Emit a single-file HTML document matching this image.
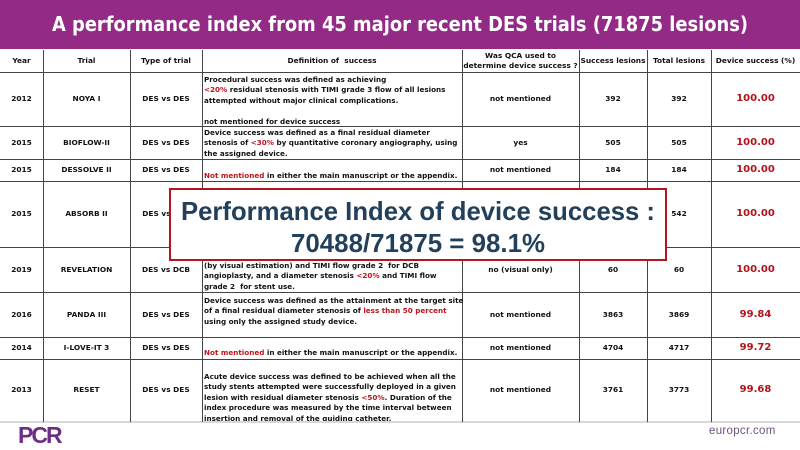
<!DOCTYPE html>
<html><head><meta charset="utf-8">
<style>
*{margin:0;padding:0;box-sizing:border-box}
body{width:800px;height:450px;overflow:hidden;background:#fff;font-family:"Liberation Sans",Arial,sans-serif;position:relative}
.abs{position:absolute}
.hl{position:absolute;left:0;width:800px;height:1px;background:#444}
.vl{position:absolute;width:1px;background:#444}
.c{position:absolute;display:flex;align-items:center;justify-content:center;text-align:center;font-weight:bold;font-size:7.4px;color:#111;line-height:10px;font-family:"DejaVu Sans",Verdana,sans-serif}
.d{position:absolute;font-weight:bold;font-size:7.2px;color:#111;line-height:10.4px;left:204px;width:258px;font-family:"DejaVu Sans",Verdana,sans-serif;white-space:nowrap}
.r{color:#c0141c}
.pct{color:#b3121a;font-size:10px}
</style></head><body>
<div class="abs" style="left:0;top:0;width:800px;height:49px;background:#922a86"></div>
<svg class="abs" style="left:0;top:0" width="800" height="49"><text x="400" y="31" text-anchor="middle" textLength="696" lengthAdjust="spacingAndGlyphs" font-family="DejaVu Sans,Verdana,sans-serif" font-weight="bold" font-size="20" fill="#fff">A performance index from 45 major recent DES trials (71875 lesions)</text></svg>

<div>
<div class="hl" style="top:72px"></div>
<div class="hl" style="top:126px"></div>
<div class="hl" style="top:159px"></div>
<div class="hl" style="top:181px"></div>
<div class="hl" style="top:247px"></div>
<div class="hl" style="top:292px"></div>
<div class="hl" style="top:337px"></div>
<div class="hl" style="top:359px"></div>
<div class="abs" style="left:0;top:421px;width:800px;height:2px;background:#d8d8d8"></div>
<div class="vl" style="left:43px;top:50px;height:372px"></div>
<div class="vl" style="left:130px;top:50px;height:372px"></div>
<div class="vl" style="left:202px;top:50px;height:372px"></div>
<div class="vl" style="left:462px;top:50px;height:372px"></div>
<div class="vl" style="left:579px;top:50px;height:372px"></div>
<div class="vl" style="left:647px;top:50px;height:372px"></div>
<div class="vl" style="left:711px;top:50px;height:372px"></div>

<div class="c" style="left:0;top:50px;width:43px;height:22px">Year</div>
<div class="c" style="left:43px;top:50px;width:87px;height:22px">Trial</div>
<div class="c" style="left:130px;top:50px;width:72px;height:22px">Type of trial</div>
<div class="c" style="left:202px;top:50px;width:260px;height:22px">Definition of&nbsp; success</div>
<div class="c" style="left:462px;top:50px;width:117px;height:22px">Was QCA used to<br>determine device success ?</div>
<div class="c" style="left:579px;top:50px;width:68px;height:22px">Success lesions</div>
<div class="c" style="left:647px;top:50px;width:64px;height:22px">Total lesions</div>
<div class="c" style="left:711px;top:50px;width:89px;height:22px">Device success (%)</div>

<div class="c" style="left:0;top:72px;width:43px;height:54px">2012</div>
<div class="c" style="left:43px;top:72px;width:87px;height:54px">NOYA I</div>
<div class="c" style="left:130px;top:72px;width:72px;height:54px">DES vs DES</div>
<div class="d" style="top:75px">Procedural success was defined as achieving<br><span class="r">&lt;20%</span> residual stenosis with TIMI grade 3 flow of all lesions<br>attempted without major clinical complications.<br><br>not mentioned for device success</div>
<div class="c" style="left:462px;top:72px;width:117px;height:54px">not mentioned</div>
<div class="c" style="left:579px;top:72px;width:68px;height:54px">392</div>
<div class="c" style="left:647px;top:72px;width:64px;height:54px">392</div>
<div class="c pct" style="left:711px;top:72px;width:89px;height:54px">100.00</div>

<div class="c" style="left:0;top:126px;width:43px;height:33px">2015</div>
<div class="c" style="left:43px;top:126px;width:87px;height:33px">BIOFLOW-II</div>
<div class="c" style="left:130px;top:126px;width:72px;height:33px">DES vs DES</div>
<div class="d" style="top:128px">Device success was defined as a final residual diameter<br>stenosis of <span class="r">&lt;30%</span> by quantitative coronary angiography, using<br>the assigned device.</div>
<div class="c" style="left:462px;top:126px;width:117px;height:33px">yes</div>
<div class="c" style="left:579px;top:126px;width:68px;height:33px">505</div>
<div class="c" style="left:647px;top:126px;width:64px;height:33px">505</div>
<div class="c pct" style="left:711px;top:126px;width:89px;height:33px">100.00</div>

<div class="c" style="left:0;top:159px;width:43px;height:22px">2015</div>
<div class="c" style="left:43px;top:159px;width:87px;height:22px">DESSOLVE II</div>
<div class="c" style="left:130px;top:159px;width:72px;height:22px">DES vs DES</div>
<div class="d" style="top:171px"><span class="r">Not mentioned</span> in either the main manuscript or the appendix.</div>
<div class="c" style="left:462px;top:159px;width:117px;height:22px">not mentioned</div>
<div class="c" style="left:579px;top:159px;width:68px;height:22px">184</div>
<div class="c" style="left:647px;top:159px;width:64px;height:22px">184</div>
<div class="c pct" style="left:711px;top:159px;width:89px;height:22px">100.00</div>

<div class="c" style="left:0;top:181px;width:43px;height:66px">2015</div>
<div class="c" style="left:43px;top:181px;width:87px;height:66px">ABSORB II</div>
<div class="c" style="left:130px;top:181px;width:72px;height:66px">DES vs DES</div>
<div class="c" style="left:647px;top:181px;width:64px;height:66px">542</div>
<div class="c pct" style="left:711px;top:181px;width:89px;height:66px">100.00</div>

<div class="c" style="left:0;top:247px;width:43px;height:45px">2019</div>
<div class="c" style="left:43px;top:247px;width:87px;height:45px">REVELATION</div>
<div class="c" style="left:130px;top:247px;width:72px;height:45px">DES vs DCB</div>
<div class="d" style="top:261px">(by visual estimation) and TIMI flow grade 2&nbsp; for DCB<br>angioplasty, and a diameter stenosis <span class="r">&lt;20%</span> and TIMI flow<br>grade 2&nbsp; for stent use.</div>
<div class="c" style="left:462px;top:247px;width:117px;height:45px">no (visual only)</div>
<div class="c" style="left:579px;top:247px;width:68px;height:45px">60</div>
<div class="c" style="left:647px;top:247px;width:64px;height:45px">60</div>
<div class="c pct" style="left:711px;top:247px;width:89px;height:45px">100.00</div>

<div class="c" style="left:0;top:292px;width:43px;height:45px">2016</div>
<div class="c" style="left:43px;top:292px;width:87px;height:45px">PANDA III</div>
<div class="c" style="left:130px;top:292px;width:72px;height:45px">DES vs DES</div>
<div class="d" style="top:296px">Device success was defined as the attainment at the target site<br>of a final residual diameter stenosis of <span class="r">less than 50 percent</span><br>using only the assigned study device.</div>
<div class="c" style="left:462px;top:292px;width:117px;height:45px">not mentioned</div>
<div class="c" style="left:579px;top:292px;width:68px;height:45px">3863</div>
<div class="c" style="left:647px;top:292px;width:64px;height:45px">3869</div>
<div class="c pct" style="left:711px;top:292px;width:89px;height:45px">99.84</div>

<div class="c" style="left:0;top:337px;width:43px;height:22px">2014</div>
<div class="c" style="left:43px;top:337px;width:87px;height:22px">I-LOVE-IT 3</div>
<div class="c" style="left:130px;top:337px;width:72px;height:22px">DES vs DES</div>
<div class="d" style="top:348px"><span class="r">Not mentioned</span> in either the main manuscript or the appendix.</div>
<div class="c" style="left:462px;top:337px;width:117px;height:22px">not mentioned</div>
<div class="c" style="left:579px;top:337px;width:68px;height:22px">4704</div>
<div class="c" style="left:647px;top:337px;width:64px;height:22px">4717</div>
<div class="c pct" style="left:711px;top:337px;width:89px;height:22px">99.72</div>

<div class="c" style="left:0;top:359px;width:43px;height:62px">2013</div>
<div class="c" style="left:43px;top:359px;width:87px;height:62px">RESET</div>
<div class="c" style="left:130px;top:359px;width:72px;height:62px">DES vs DES</div>
<div class="d" style="top:372px;height:49px;overflow:hidden">Acute device success was defined to be achieved when all the<br>study stents attempted were successfully deployed in a given<br>lesion with residual diameter stenosis <span class="r">&lt;50%</span>. Duration of the<br>index procedure was measured by the time interval between<br>insertion and removal of the guiding catheter.</div>
<div class="c" style="left:462px;top:359px;width:117px;height:62px">not mentioned</div>
<div class="c" style="left:579px;top:359px;width:68px;height:62px">3761</div>
<div class="c" style="left:647px;top:359px;width:64px;height:62px">3773</div>
<div class="c pct" style="left:711px;top:359px;width:89px;height:62px">99.68</div>
</div>

<div class="abs" style="left:169px;top:188px;width:498px;height:73px;background:#fff;border:2px solid #b3161e"></div>
<svg class="abs" style="left:169px;top:188px" width="498" height="73">
<text x="249" y="32" text-anchor="middle" textLength="474" lengthAdjust="spacingAndGlyphs" font-family="Liberation Sans,Arial,sans-serif" font-weight="bold" font-size="26" fill="#23405a">Performance Index of device success :</text>
<text x="249" y="64" text-anchor="middle" textLength="254" lengthAdjust="spacingAndGlyphs" font-family="Liberation Sans,Arial,sans-serif" font-weight="bold" font-size="26" fill="#23405a">70488/71875 = 98.1%</text>
</svg>

<div class="abs" style="left:18px;top:425px;font-size:23px;font-weight:bold;color:#6b2d86;letter-spacing:-2px;line-height:21px">PCR</div>
<div class="abs" style="left:709px;top:425px;font-size:11.5px;color:#6f5080;letter-spacing:0.3px">europcr.com</div>
</body></html>
